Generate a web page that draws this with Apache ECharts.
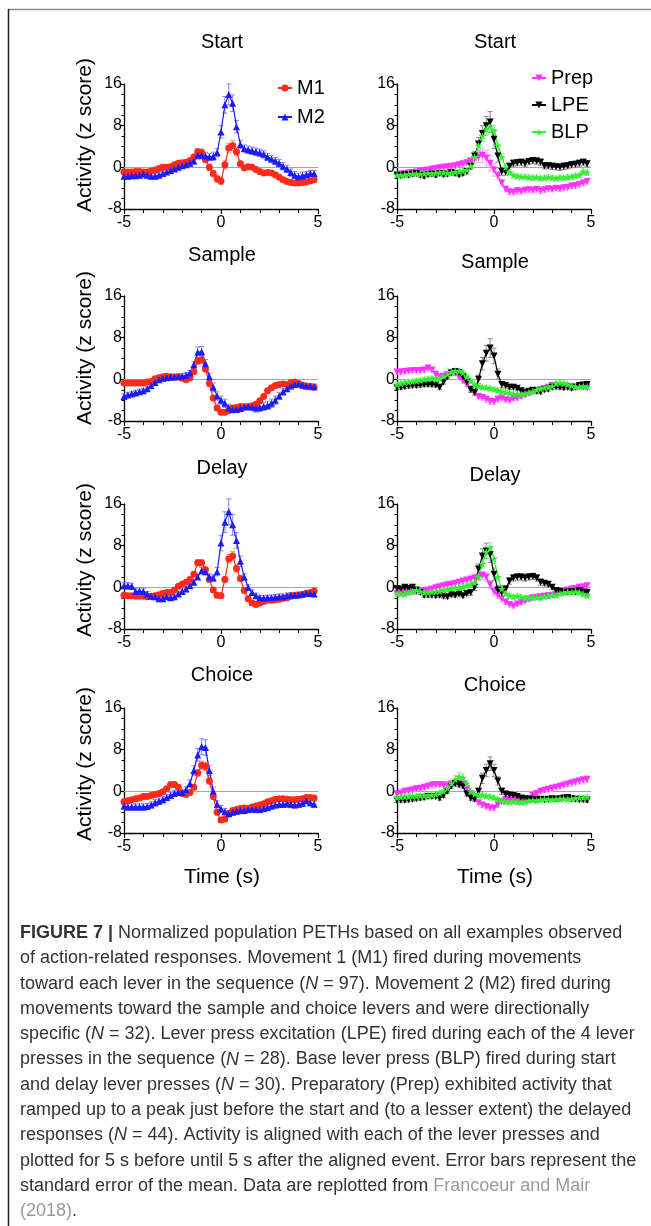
<!DOCTYPE html>
<html>
<head>
<meta charset="utf-8">
<title>Figure 7 PETHs</title>
<script src="https://cdn.jsdelivr.net/npm/echarts@6/dist/echarts.min.js"></script>
<style>
  html, body { margin: 0; padding: 0; background: #fff; }
  #main { width: 651px; height: 1226px; }
</style>
</head>
<body>
<div id="main"></div>
<script type="text/javascript">
// time bins (s), aligned on each lever press
var times = [
  -5.0,-4.8,-4.6,-4.4,-4.2,-4.0,-3.8,-3.6,-3.4,-3.2,
  -3.0,-2.8,-2.6,-2.4,-2.2,-2.0,-1.8,-1.6,-1.4,-1.2,
  -1.0,-0.8,-0.6,-0.4,-0.2,0.0,0.2,0.4,0.6,0.8,
  1.0,1.2,1.4,1.6,1.8,2.0,2.2,2.4,2.6,2.8,
  3.0,3.2,3.4,3.6,3.8,4.0,4.2,4.4,4.6,4.8
];
var xTicks = [-5, 0, 5];
var yTicks = [-8, 0, 8, 16];
var rowTitles = ['Start', 'Sample', 'Delay', 'Choice'];

// ---- Start ----
var startM1 = [
  -0.9,-0.9,-0.9,-0.8,-0.8,-0.9,-0.9,-0.7,-0.5,-0.2,
  0.0,0.0,0.1,0.5,0.8,0.9,1.0,1.3,2.0,3.0,
  2.9,1.5,0.0,-1.2,-2.2,-2.6,0.5,3.7,4.2,3.0,
  0.7,-0.1,0.1,0.0,-0.4,-0.8,-1.1,-1.0,-1.1,-1.4,
  -1.9,-2.4,-2.7,-2.9,-3.0,-3.0,-2.9,-2.8,-2.6,-2.4];
var startM1Err = [
  0.4,0.4,0.4,0.4,0.4,0.4,0.4,0.4,0.4,0.4,
  0.4,0.4,0.4,0.4,0.4,0.4,0.4,0.4,0.5,0.6,
  0.6,0.6,0.6,0.6,0.7,0.7,0.8,0.9,1.0,0.8,
  0.5,0.4,0.4,0.4,0.4,0.4,0.4,0.4,0.4,0.4,
  0.3,0.3,0.3,0.3,0.3,0.3,0.3,0.3,0.3,0.3];
var startM2 = [
  -1.7,-1.7,-1.6,-1.6,-1.5,-1.3,-1.5,-1.7,-1.7,-1.5,
  -1.2,-0.9,-0.6,-0.3,0.0,0.3,0.5,0.8,1.2,2.3,
  2.3,2.2,2.0,2.1,2.8,6.8,12.0,14.0,12.3,7.8,
  4.4,3.6,3.4,3.2,3.0,2.8,2.5,2.0,1.6,1.2,
  0.8,0.2,-0.3,-1.0,-1.5,-1.8,-1.6,-1.4,-1.2,-1.2];
var startM2Err = [
  0.5,0.5,0.5,0.5,0.5,0.5,0.5,0.5,0.5,0.5,
  0.5,0.5,0.5,0.5,0.5,0.5,0.5,0.6,0.6,0.7,
  0.7,0.7,0.7,0.8,0.8,1.2,1.6,2.0,1.6,1.2,
  0.8,0.7,0.7,0.7,0.7,0.7,0.7,0.7,0.7,0.7,
  0.7,0.7,0.7,0.7,0.7,0.7,0.7,0.6,0.6,0.6];
var startPrep = [
  -1.4,-1.3,-1.2,-1.1,-1.0,-0.9,-0.7,-0.6,-0.5,-0.3,
  -0.2,-0.1,0.0,0.1,0.2,0.3,0.5,0.7,0.9,1.2,
  1.6,2.0,2.3,1.8,0.8,-0.5,-1.6,-3.0,-4.2,-4.7,
  -4.8,-4.5,-4.6,-4.4,-4.3,-4.4,-4.2,-4.5,-4.3,-4.1,
  -4.2,-4.0,-4.1,-3.9,-3.8,-3.6,-3.5,-3.3,-3.0,-2.7];
var startPrepErr = [
  0.4,0.4,0.4,0.4,0.4,0.4,0.4,0.4,0.4,0.4,
  0.4,0.4,0.4,0.4,0.4,0.4,0.4,0.4,0.5,0.6,
  0.8,1.0,1.4,1.5,1.5,1.2,0.8,0.6,0.5,0.5,
  0.5,0.5,0.5,0.5,0.5,0.5,0.5,0.5,0.5,0.5,
  0.5,0.5,0.5,0.5,0.5,0.5,0.5,0.5,0.5,0.5];
var startLPE = [
  -1.5,-1.6,-1.4,-1.5,-1.3,-1.2,-1.5,-1.7,-1.4,-1.3,
  -1.5,-1.2,-1.4,-1.3,-1.0,-1.2,-1.4,-1.2,-0.8,0.2,
  2.2,4.5,6.5,8.0,8.7,5.4,2.2,-0.8,-0.9,0.2,
  0.8,0.9,1.0,0.8,1.1,1.3,1.2,1.0,0.3,0.3,
  0.2,0.1,0.0,0.2,0.3,0.5,0.6,0.8,1.0,0.7];
var startLPEErr = [
  0.4,0.4,0.4,0.4,0.4,0.4,0.4,0.4,0.4,0.4,
  0.4,0.4,0.4,0.4,0.4,0.4,0.4,0.4,0.5,0.6,
  0.8,1.2,1.5,1.8,2.0,1.8,1.2,0.8,0.6,0.6,
  0.6,0.6,0.6,0.6,0.6,0.6,0.6,0.6,0.6,0.6,
  0.6,0.6,0.6,0.6,0.6,0.6,0.6,0.6,0.6,0.6];
var startBLP = [
  -1.5,-1.5,-1.4,-1.3,-1.2,-1.2,-1.3,-1.2,-1.1,-1.2,
  -1.1,-1.0,-1.0,-1.1,-1.0,-0.9,-0.8,-0.7,-0.5,0.3,
  2.0,4.2,6.0,7.3,7.8,7.0,4.2,2.0,0.0,-0.9,
  -1.5,-1.7,-1.8,-1.8,-1.9,-2.0,-1.9,-2.1,-2.0,-1.9,
  -2.0,-2.1,-1.9,-2.0,-1.9,-1.8,-1.6,-1.5,-0.8,-1.0];
var startBLPErr = [
  0.4,0.4,0.4,0.4,0.4,0.4,0.4,0.4,0.4,0.4,
  0.4,0.4,0.4,0.4,0.4,0.4,0.4,0.4,0.4,0.5,
  0.6,0.8,1.0,1.0,1.0,1.0,0.8,0.6,0.5,0.5,
  0.4,0.4,0.4,0.4,0.4,0.4,0.4,0.4,0.4,0.4,
  0.4,0.4,0.4,0.4,0.4,0.4,0.4,0.4,0.5,0.5];

// ---- Sample ----
var sampleM1 = [
  -0.7,-0.7,-0.7,-0.7,-0.7,-0.7,-0.5,-0.4,0.1,0.3,
  0.5,0.6,0.5,0.4,0.5,0.2,-0.1,0.3,1.5,3.5,
  3.7,2.0,-0.8,-3.6,-5.5,-6.3,-6.3,-6.0,-5.5,-5.4,
  -5.2,-5.3,-5.3,-5.1,-4.8,-4.1,-3.3,-2.2,-1.6,-1.2,
  -1.0,-0.9,-1.0,-0.6,-0.5,-0.8,-1.2,-1.3,-1.4,-1.5];
var sampleM1Err = [
  0.3,0.3,0.3,0.3,0.3,0.3,0.3,0.3,0.3,0.3,
  0.3,0.3,0.3,0.3,0.3,0.3,0.3,0.4,0.5,0.6,
  0.6,0.5,0.5,0.5,0.5,0.5,0.5,0.5,0.5,0.4,
  0.4,0.4,0.4,0.4,0.4,0.4,0.4,0.4,0.4,0.4,
  0.3,0.3,0.3,0.3,0.3,0.3,0.3,0.3,0.3,0.3];
var sampleM2 = [
  -3.3,-3.0,-2.8,-2.6,-2.4,-2.2,-1.8,-1.2,-0.6,-0.1,
  0.2,0.3,0.4,0.5,0.5,0.6,0.8,1.2,2.8,5.2,
  5.3,3.0,0.5,-1.5,-3.2,-4.0,-4.6,-5.5,-5.8,-5.8,
  -5.6,-5.3,-5.2,-5.3,-5.5,-5.4,-5.2,-5.0,-4.6,-4.0,
  -3.2,-2.4,-1.8,-1.3,-1.0,-0.9,-1.1,-1.3,-1.3,-1.4];
var sampleM2Err = [
  0.5,0.5,0.5,0.5,0.5,0.5,0.5,0.5,0.5,0.5,
  0.5,0.5,0.5,0.5,0.5,0.5,0.5,0.5,0.6,1.0,
  1.0,0.8,0.7,0.8,0.8,0.8,0.8,0.7,0.6,0.6,
  0.6,0.6,0.6,0.7,0.8,0.8,0.8,0.8,0.8,0.8,
  0.7,0.6,0.5,0.5,0.5,0.5,0.5,0.5,0.5,0.5];
var samplePrep = [
  1.4,1.4,1.5,1.6,1.7,1.7,1.7,1.8,2.2,1.8,
  1.0,0.5,0.6,0.9,1.2,1.2,0.4,-0.3,-1.0,-1.8,
  -2.7,-3.3,-3.5,-3.8,-4.2,-4.3,-3.8,-3.6,-3.9,-4.0,
  -3.7,-3.6,-3.3,-3.0,-2.7,-2.4,-2.2,-2.0,-1.8,-1.5,
  -1.2,-1.2,-1.3,-1.4,-1.4,-1.4,-1.5,-1.4,-1.5,-1.6];
var samplePrepErr = [
  0.4,0.4,0.4,0.4,0.4,0.4,0.4,0.4,0.4,0.4,
  0.4,0.4,0.4,0.4,0.4,0.4,0.4,0.4,0.4,0.4,
  0.4,0.4,0.5,0.6,0.6,0.6,0.6,0.5,0.4,0.4,
  0.4,0.4,0.4,0.4,0.4,0.4,0.4,0.4,0.4,0.4,
  0.4,0.4,0.4,0.4,0.4,0.4,0.4,0.4,0.4,0.4];
var sampleLPE = [
  -1.6,-1.5,-1.4,-1.3,-1.2,-1.2,-1.1,-1.0,-1.0,-1.0,
  -1.1,-1.5,-0.5,0.5,1.2,1.5,1.3,0.5,-0.5,-2.0,
  -2.5,0.0,3.0,5.0,6.0,4.5,1.0,-1.0,-1.2,-1.5,
  -1.5,-1.7,-2.2,-2.5,-2.3,-2.1,-2.3,-2.4,-2.0,-1.9,
  -1.5,-1.4,-1.5,-1.6,-1.5,-1.7,-1.5,-1.2,-1.1,-1.0];
var sampleLPEErr = [
  0.4,0.4,0.4,0.4,0.4,0.4,0.4,0.4,0.4,0.4,
  0.4,0.4,0.4,0.4,0.4,0.4,0.4,0.4,0.4,0.5,
  0.5,0.8,1.2,1.5,1.8,1.5,1.0,0.6,0.5,0.5,
  0.4,0.4,0.4,0.4,0.4,0.4,0.4,0.4,0.4,0.4,
  0.4,0.4,0.4,0.4,0.4,0.4,0.4,0.4,0.4,0.4];
var sampleBLP = [
  -1.0,-0.8,-0.6,-0.5,-0.4,-0.3,-0.2,0.0,0.1,0.2,
  0.0,0.2,0.6,1.0,1.4,1.6,1.6,1.3,0.5,-0.3,
  -1.0,-1.3,-1.5,-1.6,-1.7,-1.9,-2.1,-2.3,-2.5,-2.6,
  -2.8,-2.8,-2.9,-2.7,-2.5,-2.3,-2.0,-1.8,-1.6,-1.5,
  -1.3,-0.8,-0.7,-0.8,-1.0,-1.2,-1.4,-1.4,-1.3,-1.4];
var sampleBLPErr = [
  0.4,0.4,0.4,0.4,0.4,0.4,0.4,0.4,0.4,0.4,
  0.4,0.4,0.4,0.4,0.5,0.5,0.5,0.4,0.4,0.4,
  0.4,0.4,0.4,0.4,0.4,0.4,0.4,0.4,0.4,0.4,
  0.4,0.4,0.4,0.4,0.4,0.4,0.4,0.4,0.4,0.4,
  0.4,0.4,0.4,0.4,0.4,0.4,0.4,0.4,0.4,0.4];

// ---- Delay ----
var delayM1 = [
  -1.5,-1.6,-1.6,-1.7,-1.7,-1.7,-1.8,-1.7,-1.6,-1.4,
  -1.2,-1.0,-1.0,-0.5,0.2,0.6,1.0,1.5,2.5,4.7,
  4.7,3.4,1.5,-0.5,-1.5,-1.6,1.5,5.5,6.0,3.6,
  1.7,-0.6,-2.2,-3.0,-3.3,-3.0,-2.7,-2.5,-2.5,-2.4,
  -2.3,-2.1,-2.0,-1.7,-1.5,-1.5,-1.4,-1.2,-1.0,-0.7];
var delayM1Err = [
  0.3,0.3,0.3,0.3,0.3,0.3,0.3,0.3,0.3,0.3,
  0.3,0.3,0.3,0.3,0.3,0.3,0.3,0.4,0.5,0.6,
  0.6,0.5,0.5,0.5,0.5,0.5,0.6,0.8,0.9,0.7,
  0.5,0.4,0.4,0.4,0.4,0.4,0.4,0.3,0.3,0.3,
  0.3,0.3,0.3,0.3,0.3,0.3,0.3,0.3,0.3,0.3];
var delayM2 = [
  0.3,0.3,0.2,-0.8,-0.7,-0.8,-1.3,-1.7,-1.8,-2.2,
  -2.2,-1.8,-2.0,-1.8,-1.3,-0.8,-0.3,0.3,1.0,2.0,
  3.2,3.0,2.0,1.8,3.0,8.5,12.5,14.5,12.0,9.0,
  5.0,2.0,0.0,-1.0,-1.6,-2.0,-2.1,-2.0,-2.0,-1.9,
  -1.8,-1.8,-1.6,-1.5,-1.5,-1.4,-1.3,-1.1,-1.2,-1.3];
var delayM2Err = [
  0.6,0.6,0.6,0.6,0.6,0.6,0.5,0.5,0.5,0.5,
  0.5,0.5,0.5,0.5,0.5,0.5,0.5,0.5,0.5,0.5,
  0.6,0.6,0.6,0.6,0.8,1.5,2.0,2.5,2.0,1.5,
  1.0,0.6,0.5,0.5,0.5,0.5,0.5,0.5,0.5,0.5,
  0.5,0.5,0.5,0.5,0.5,0.5,0.5,0.5,0.5,0.5];
var delayPrep = [
  -1.2,-1.2,-1.1,-1.0,-0.9,-0.9,-0.8,-0.6,-0.5,-0.3,
  -0.1,0.1,0.3,0.5,0.6,0.8,1.0,1.2,1.4,1.6,
  1.8,2.0,2.3,2.0,0.5,-0.8,-1.5,-2.2,-2.8,-3.3,
  -3.6,-3.2,-2.9,-2.6,-2.3,-2.0,-1.9,-1.8,-1.7,-1.6,
  -1.5,-1.3,-1.0,-0.7,-0.5,-0.3,-0.2,0.0,0.1,0.3];
var delayPrepErr = [
  0.4,0.4,0.4,0.4,0.4,0.4,0.4,0.4,0.4,0.4,
  0.4,0.4,0.4,0.4,0.4,0.4,0.4,0.4,0.4,0.5,
  0.6,0.7,0.8,0.8,0.8,0.8,0.7,0.6,0.5,0.5,
  0.4,0.4,0.4,0.4,0.4,0.4,0.4,0.4,0.4,0.4,
  0.4,0.4,0.4,0.4,0.4,0.4,0.4,0.4,0.4,0.4];
var delayLPE = [
  -0.2,-0.3,0.0,-0.2,0.0,-0.5,-1.0,-1.5,-1.5,-1.5,
  -1.6,-1.5,-1.7,-1.8,-1.4,-1.5,-1.3,-1.6,-1.2,-1.0,
  0.0,3.5,6.0,7.0,6.3,2.5,-0.5,-1.0,-0.3,1.2,
  1.8,2.0,2.0,1.8,2.0,2.1,1.8,1.0,0.8,0.6,
  0.0,-0.6,-0.8,-1.0,-0.9,-0.8,-0.9,-0.6,-0.9,-1.0];
var delayLPEErr = [
  0.4,0.4,0.4,0.4,0.4,0.4,0.4,0.4,0.4,0.4,
  0.4,0.4,0.4,0.4,0.4,0.4,0.4,0.4,0.4,0.5,
  0.6,1.0,1.4,1.5,1.5,1.2,0.8,0.6,0.6,0.6,
  0.6,0.6,0.6,0.6,0.6,0.6,0.6,0.6,0.5,0.5,
  0.4,0.4,0.4,0.4,0.4,0.4,0.4,0.4,0.4,0.4];
var delayBLP = [
  -1.2,-1.2,-1.3,-1.0,-0.8,-0.5,-0.8,-1.0,-1.0,-0.9,
  -0.8,-0.7,-0.5,-0.4,-0.2,-0.1,0.0,0.1,0.3,0.6,
  0.9,2.0,4.5,6.8,7.6,5.5,2.0,-0.3,-1.2,-1.6,
  -1.8,-1.7,-1.8,-2.0,-2.0,-2.0,-1.9,-2.0,-1.8,-1.7,
  -1.5,-1.5,-1.2,-1.0,-0.9,-1.0,-0.8,-1.0,-1.3,-1.6];
var delayBLPErr = [
  0.4,0.4,0.4,0.4,0.4,0.4,0.4,0.4,0.4,0.4,
  0.4,0.4,0.4,0.4,0.4,0.4,0.4,0.4,0.4,0.4,
  0.5,0.6,0.8,1.0,1.0,0.9,0.7,0.5,0.4,0.4,
  0.4,0.4,0.4,0.4,0.4,0.4,0.4,0.4,0.4,0.4,
  0.4,0.4,0.4,0.4,0.4,0.4,0.4,0.4,0.4,0.4];

// ---- Choice ----
var choiceM1 = [
  -2.0,-1.8,-1.6,-1.4,-1.3,-1.0,-1.0,-0.8,-0.6,-0.4,
  -0.1,0.5,1.3,1.3,0.8,-0.4,-0.6,-0.2,0.8,3.5,
  5.0,4.8,2.0,-1.0,-4.0,-5.5,-5.3,-4.3,-3.7,-3.5,
  -3.3,-3.2,-3.3,-3.0,-2.8,-2.6,-2.4,-2.0,-1.8,-1.5,
  -1.4,-1.4,-1.5,-1.6,-1.6,-1.5,-1.4,-1.2,-1.2,-1.3];
var choiceM1Err = [
  0.4,0.4,0.4,0.4,0.4,0.4,0.4,0.4,0.4,0.4,
  0.4,0.4,0.4,0.4,0.4,0.4,0.4,0.4,0.5,0.7,
  0.8,0.8,0.6,0.5,0.5,0.5,0.5,0.5,0.4,0.4,
  0.4,0.4,0.4,0.4,0.4,0.4,0.4,0.4,0.4,0.4,
  0.4,0.4,0.4,0.4,0.4,0.4,0.4,0.4,0.4,0.4];
var choiceM2 = [
  -2.8,-3.0,-3.0,-3.0,-3.0,-3.0,-2.9,-2.6,-2.2,-1.9,
  -1.6,-1.2,-0.8,-0.4,-0.2,-0.2,0.3,1.5,4.0,7.0,
  8.6,8.4,4.0,0.0,-2.5,-3.4,-3.9,-4.3,-4.0,-3.8,
  -3.7,-3.7,-3.5,-3.4,-3.5,-3.5,-3.3,-3.1,-2.8,-2.6,
  -2.5,-2.5,-2.4,-2.5,-2.6,-2.5,-2.3,-1.8,-2.2,-2.5];
var choiceM2Err = [
  0.6,0.6,0.6,0.6,0.6,0.6,0.6,0.6,0.6,0.6,
  0.6,0.6,0.6,0.6,0.6,0.6,0.6,0.7,0.9,1.2,
  1.5,1.5,1.0,0.8,0.7,0.7,0.6,0.6,0.6,0.6,
  0.6,0.6,0.6,0.6,0.6,0.6,0.6,0.6,0.6,0.6,
  0.6,0.6,0.6,0.6,0.6,0.6,0.6,0.6,0.6,0.6];
var choicePrep = [
  -0.5,-0.3,0.0,0.1,0.3,0.5,0.6,0.8,1.0,1.2,
  1.3,1.3,1.2,1.2,1.4,1.5,1.6,1.4,0.5,-0.5,
  -1.5,-2.2,-2.6,-2.9,-3.2,-3.2,-2.6,-2.0,-1.7,-1.6,
  -1.9,-2.0,-2.0,-1.8,-1.4,-0.8,-0.4,0.0,0.2,0.4,
  0.6,0.8,1.0,1.2,1.4,1.6,1.8,2.0,2.2,2.3];
var choicePrepErr = [
  0.4,0.4,0.4,0.4,0.4,0.4,0.4,0.4,0.4,0.4,
  0.4,0.4,0.4,0.4,0.4,0.4,0.4,0.4,0.4,0.4,
  0.4,0.4,0.5,0.5,0.5,0.5,0.5,0.4,0.4,0.4,
  0.4,0.4,0.4,0.4,0.4,0.4,0.4,0.4,0.4,0.5,
  0.5,0.5,0.5,0.5,0.5,0.6,0.6,0.6,0.6,0.6];
var choiceLPE = [
  -1.7,-1.7,-1.7,-1.6,-1.5,-1.4,-1.3,-1.2,-1.0,-1.0,
  -1.0,-1.3,-0.8,0.0,1.0,1.5,1.3,1.0,-0.5,-1.3,
  -1.5,0.0,2.5,4.0,5.3,4.0,2.0,0.0,-0.5,-0.7,
  -0.8,-1.0,-1.3,-1.4,-1.5,-1.5,-1.6,-1.5,-1.6,-1.5,
  -1.4,-1.5,-1.4,-1.3,-1.2,-1.4,-1.5,-1.6,-1.6,-1.7];
var choiceLPEErr = [
  0.4,0.4,0.4,0.4,0.4,0.4,0.4,0.4,0.4,0.4,
  0.4,0.4,0.4,0.4,0.4,0.5,0.5,0.4,0.4,0.4,
  0.4,0.6,1.0,1.2,1.3,1.2,0.8,0.6,0.5,0.5,
  0.4,0.4,0.4,0.4,0.4,0.4,0.4,0.4,0.4,0.4,
  0.4,0.4,0.4,0.4,0.4,0.4,0.4,0.4,0.4,0.4];
var choiceBLP = [
  -1.2,-1.1,-1.0,-1.0,-0.9,-0.9,-0.8,-0.8,-0.8,-0.7,
  -0.6,-0.3,0.0,0.6,1.5,2.3,2.8,2.6,1.5,0.0,
  -0.5,-0.8,-0.7,-0.9,-1.0,-1.2,-1.5,-1.8,-2.0,-2.0,
  -1.9,-2.0,-2.1,-2.0,-1.8,-1.7,-1.8,-1.6,-1.5,-1.5,
  -1.6,-1.5,-1.4,-1.4,-1.5,-1.4,-1.3,-1.2,-1.2,-1.1];
var choiceBLPErr = [
  0.4,0.4,0.4,0.4,0.4,0.4,0.4,0.4,0.4,0.4,
  0.4,0.4,0.4,0.5,0.6,0.7,0.8,0.8,0.6,0.5,
  0.4,0.4,0.4,0.4,0.4,0.4,0.4,0.4,0.4,0.4,
  0.4,0.4,0.4,0.4,0.4,0.4,0.4,0.4,0.4,0.4,
  0.4,0.4,0.4,0.4,0.4,0.4,0.4,0.4,0.4,0.4];

var panels = [
  {names: ['M1', 'M2'], vals: [startM1, startM2], errs: [startM1Err, startM2Err]},
  {names: ['Prep', 'LPE', 'BLP'], vals: [startPrep, startLPE, startBLP], errs: [startPrepErr, startLPEErr, startBLPErr]},
  {names: ['M1', 'M2'], vals: [sampleM1, sampleM2], errs: [sampleM1Err, sampleM2Err]},
  {names: ['Prep', 'LPE', 'BLP'], vals: [samplePrep, sampleLPE, sampleBLP], errs: [samplePrepErr, sampleLPEErr, sampleBLPErr]},
  {names: ['M1', 'M2'], vals: [delayM1, delayM2], errs: [delayM1Err, delayM2Err]},
  {names: ['Prep', 'LPE', 'BLP'], vals: [delayPrep, delayLPE, delayBLP], errs: [delayPrepErr, delayLPEErr, delayBLPErr]},
  {names: ['M1', 'M2'], vals: [choiceM1, choiceM2], errs: [choiceM1Err, choiceM2Err]},
  {names: ['Prep', 'LPE', 'BLP'], vals: [choicePrep, choiceLPE, choiceBLP], errs: [choicePrepErr, choiceLPEErr, choiceBLPErr]}
];

var FONT = 'Liberation Sans, Arial, Helvetica, sans-serif';
var star = 'path://M50,0 L61,35 L98,35 L68,57 L79,91 L50,70 L21,91 L32,57 L2,35 L39,35 Z';
var look = {
  M1:   {color: '#ff2a1a', err: '#ff8f85', symbol: 'circle',   size: 7, rotate: 0},
  M2:   {color: '#1c1cff', err: '#8585ff', symbol: 'triangle', size: 7, rotate: 0},
  Prep: {color: '#ff33ff', err: '#ffa0ff', symbol: 'triangle', size: 7, rotate: 180},
  LPE:  {color: '#000000', err: '#8a8a8a', symbol: 'triangle', size: 7, rotate: 180},
  BLP:  {color: '#33ee33', err: '#a0f5a0', symbol: star,       size: 8, rotate: 0}
};

var colLeft = [124, 397];
var rowTop = [84, 296, 504, 708];
var titleY = [[42, 42], [255, 262], [468, 475], [675, 685]];
var nameY = [135, 348, 560, 764];

var grids = [], xAxes = [], yAxes = [], series = [], graphics = [];

panels.forEach(function (p, i) {
  var row = Math.floor(i / 2), col = i % 2;
  grids.push({left: colLeft[col], top: rowTop[row], width: 194, height: 125});
  xAxes.push({
    gridIndex: i, type: 'value', min: xTicks[0], max: xTicks[2], interval: 5,
    axisLine: {onZero: false, lineStyle: {color: '#000', width: 1.3}},
    axisTick: {length: 5, lineStyle: {color: '#000', width: 1.2}},
    minorTick: {show: true, splitNumber: 5, length: 4, lineStyle: {color: '#000', width: 1}},
    splitLine: {show: false},
    axisLabel: {fontSize: 16, color: '#000', fontFamily: FONT, margin: 6}
  });
  yAxes.push({
    gridIndex: i, type: 'value', min: yTicks[0], max: yTicks[3], interval: 8,
    axisLine: {show: true, onZero: false, lineStyle: {color: '#000', width: 1.3}},
    axisTick: {show: true, length: 4, lineStyle: {color: '#000', width: 1.2}},
    minorTick: {show: true, splitNumber: 4, length: 2.5, lineStyle: {color: '#000', width: 1}},
    splitLine: {show: false},
    axisLabel: {fontSize: 16, color: '#000', fontFamily: FONT, margin: 2}
  });

  p.names.forEach(function (nm, k) {
    var st = look[nm];
    var v = p.vals[k], e = p.errs[k];
    // error bars (SEM)
    series.push({
      type: 'custom', xAxisIndex: i, yAxisIndex: i, silent: true, z: 2,
      data: times.map(function (t, j) { return [t, v[j] - e[j], v[j] + e[j]]; }),
      encode: {x: 0, y: [1, 2]},
      renderItem: function (params, api) {
        var lo = api.coord([api.value(0), api.value(1)]);
        var hi = api.coord([api.value(0), api.value(2)]);
        var cw = 2.5;
        var s = {stroke: st.err, lineWidth: 1};
        return {type: 'group', children: [
          {type: 'line', shape: {x1: lo[0], y1: lo[1], x2: hi[0], y2: hi[1]}, style: s},
          {type: 'line', shape: {x1: hi[0] - cw, y1: hi[1], x2: hi[0] + cw, y2: hi[1]}, style: s},
          {type: 'line', shape: {x1: lo[0] - cw, y1: lo[1], x2: lo[0] + cw, y2: lo[1]}, style: s}
        ]};
      }
    });
    var line = {
      type: 'line', name: nm, xAxisIndex: i, yAxisIndex: i, z: 3,
      data: times.map(function (t, j) { return [t, v[j]]; }),
      symbol: st.symbol, symbolSize: st.size, symbolRotate: st.rotate,
      showAllSymbol: true,
      itemStyle: {color: st.color},
      lineStyle: {color: st.color, width: 1.2}
    };
    if (k === 0) {
      line.markLine = {
        silent: true, symbol: 'none', label: {show: false}, z: 1,
        lineStyle: {color: '#a6a6a6', width: 1.2, type: 'solid'},
        data: [{yAxis: 0}]
      };
    }
    series.push(line);
  });

  graphics.push({
    type: 'text', x: colLeft[col] + 98, y: titleY[row][col],
    style: {text: rowTitles[row], fontSize: 20, fontFamily: FONT, fill: '#000', align: 'center', verticalAlign: 'middle'}
  });
  if (col === 0) {
    graphics.push({
      type: 'text', x: 85, y: nameY[row], rotation: Math.PI / 2,
      style: {text: 'Activity (z score)', fontSize: 21, fontFamily: FONT, fill: '#000', align: 'center', verticalAlign: 'middle'}
    });
  }
  if (row === 3) {
    graphics.push({
      type: 'text', x: colLeft[col] + 98, y: 877,
      style: {text: 'Time (s)', fontSize: 21, fontFamily: FONT, fill: '#000', align: 'center', verticalAlign: 'middle'}
    });
  }
});

// page frame
graphics.push({type: 'line', shape: {x1: 8, y1: 9.5, x2: 651, y2: 9.5}, style: {stroke: '#8c8c8c', lineWidth: 1.5}});
graphics.push({type: 'line', shape: {x1: 8.5, y1: 9, x2: 8.5, y2: 1226}, style: {stroke: '#222', lineWidth: 1.5}});

// caption
var capLines = [
  '{b|FIGURE 7 |} {n|Normalized population PETHs based on all examples observed}',
  '{n|of action-related responses. Movement 1 (M1) fired during movements}',
  '{n|toward each lever in the sequence (}{i|N}{n| = 97). Movement 2 (M2) fired during}',
  '{n|movements toward the sample and choice levers and were directionally}',
  '{n|specific (}{i|N}{n| = 32). Lever press excitation (LPE) fired during each of the 4 lever}',
  '{n|presses in the sequence (}{i|N}{n| = 28). Base lever press (BLP) fired during start}',
  '{n|and delay lever presses (}{i|N}{n| = 30). Preparatory (Prep) exhibited activity that}',
  '{n|ramped up to a peak just before the start and (to a lesser extent) the delayed}',
  '{n|responses (}{i|N}{n| = 44). Activity is aligned with each of the lever presses and}',
  '{n|plotted for 5 s before until 5 s after the aligned event. Error bars represent the}',
  '{n|standard error of the mean. Data are replotted from }{g|Francoeur and Mair}',
  '{g|(2018)}{n|.}'
];
var capSize = 18;
var capInk = '#333';
var rich = {
  n: {fontSize: capSize, fontFamily: FONT, fill: capInk},
  b: {fontSize: capSize, fontFamily: FONT, fontWeight: 'bold', fill: capInk},
  i: {fontSize: capSize, fontFamily: FONT, fontStyle: 'italic', fill: capInk},
  g: {fontSize: capSize, fontFamily: FONT, fill: '#9a9a9a'}
};
capLines.forEach(function (txt, k) {
  graphics.push({
    type: 'text', x: 20, y: 933 + k * 25.3,
    style: {text: txt, rich: rich, fontSize: capSize, fontFamily: FONT, fill: capInk, align: 'left', verticalAlign: 'middle'}
  });
});

var myChart = echarts.init(document.getElementById('main'));
var option = {
  animation: false,
  backgroundColor: '#fff',
  grid: grids,
  xAxis: xAxes,
  yAxis: yAxes,
  legend: [
    {data: ['M1', 'M2'], orient: 'vertical', left: 272, top: 73, itemWidth: 14, itemHeight: 9, itemGap: 9,
     selectedMode: false, textStyle: {fontSize: 20, color: '#000', fontFamily: FONT}},
    {data: ['Prep', 'LPE', 'BLP'], orient: 'vertical', left: 526, top: 63, itemWidth: 14, itemHeight: 9, itemGap: 7,
     selectedMode: false, textStyle: {fontSize: 20, color: '#000', fontFamily: FONT}}
  ],
  graphic: graphics,
  series: series
};
myChart.setOption(option);
</script>
</body>
</html>
